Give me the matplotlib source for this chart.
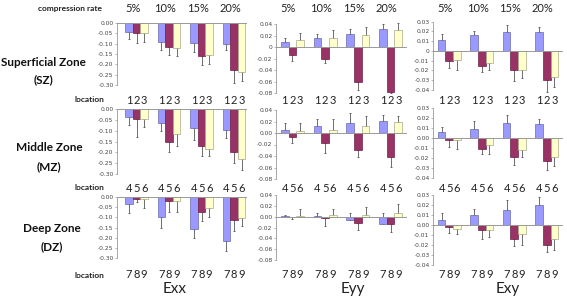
import numpy as np
import matplotlib.pyplot as plt
from matplotlib.transforms import blended_transform_factory

plt.rcParams['axes.unicode_minus'] = False
plt.rcParams['font.family'] = ['Lato', 'DejaVu Sans']

rates = ['5%', '10%', '15%', '20%']
loc_sz = ['1', '2', '3']
loc_mz = ['4', '5', '6']
loc_dz = ['7', '8', '9']
strains = ['Exx', 'Eyy', 'Exy']

# means (rows: compression rate, cols: location) and tip of each error bar
exx_sz = [[-0.045, -0.05, -0.05], [-0.092, -0.116, -0.119], [-0.095, -0.161, -0.156], [-0.10, -0.229, -0.237]]
exx_sz_tip = [[-0.078, -0.097, -0.092], [-0.132, -0.156, -0.16], [-0.14, -0.205, -0.20], [-0.132, -0.29, -0.28]]
eyy_sz = [[0.009, -0.014, 0.013], [0.015, -0.020, 0.016], [0.022, -0.060, 0.021], [0.032, -0.078, 0.030]]
eyy_sz_tip = [[0.016, -0.024, 0.025], [0.022, -0.027, 0.029], [0.032, -0.075, 0.035], [0.040, -0.08, 0.041]]
exy_sz = [[0.011, -0.010, -0.009], [0.016, -0.015, -0.012], [0.019, -0.020, -0.020], [0.0195, -0.030, -0.027]]
exy_sz_tip = [[0.017, -0.017, -0.019], [0.020, -0.022, -0.019], [0.027, -0.031, -0.028], [0.025, -0.042, -0.037]]

exx_mz = [[-0.035, -0.046, -0.046], [-0.066, -0.15, -0.115], [-0.088, -0.17, -0.185], [-0.097, -0.20, -0.231]]
exx_mz_tip = [[-0.074, -0.13, -0.083], [-0.10, -0.20, -0.17], [-0.143, -0.216, -0.216], [-0.134, -0.25, -0.282]]
eyy_mz = [[0.006, -0.007, 0.004], [0.012, -0.017, 0.006], [0.018, -0.030, 0.012], [0.021, -0.041, 0.019]]
eyy_mz_tip = [[0.018, -0.018, 0.017], [0.025, -0.035, 0.024], [0.035, -0.042, 0.030], [0.032, -0.059, 0.030]]
exy_mz = [[0.006, -0.002, -0.002], [0.009, -0.011, -0.0065], [0.0155, -0.019, -0.012], [0.014, -0.023, -0.019]]
exy_mz_tip = [[0.011, -0.009, -0.011], [0.017, -0.016, -0.016], [0.023, -0.027, -0.019], [0.0195, -0.032, -0.028]]

exx_dz = [[-0.035, -0.01, -0.01], [-0.10, -0.02, -0.02], [-0.158, -0.072, -0.055], [-0.214, -0.113, -0.105]]
exx_dz_tip = [[-0.08, -0.025, -0.055], [-0.152, -0.072, -0.072], [-0.20, -0.116, -0.097], [-0.268, -0.165, -0.145]]
eyy_dz = [[0.001, -0.001, 0.002], [0.001, -0.002, 0.004], [-0.007, -0.011, 0.003], [-0.013, -0.014, 0.0075]]
eyy_dz_tip = [[0.004, -0.004, 0.014], [0.006, -0.017, 0.014], [0.006, -0.024, 0.018], [0.006, -0.028, 0.023]]
exy_dz = [[0.005, -0.002, -0.004], [0.010, -0.005, -0.005], [0.0147, -0.0143, -0.009], [0.020, -0.0195, -0.0143]]
exy_dz_tip = [[0.012, -0.008, -0.009], [0.016, -0.014, -0.012], [0.025, -0.021, -0.020], [0.028, -0.027, -0.025]]

colors = ['#9999ff', '#993366', '#ffffcc']
edges = ['#6a6aa8', '#6e2349', '#a8a88a']

W, H = 567, 298
fig = plt.figure(figsize=(W / 100, H / 100), dpi=100)


def box(x0, x1, ytop, ybot):
    return [x0 / W, 1 - ybot / H, (x1 - x0) / W, (ybot - ytop) / H]


def panel(pos, vals, tips, ylim, yticks, zero_label, xlim):
    ax = fig.add_axes(pos)
    vals = np.array(vals)
    tips = np.array(tips)
    x = np.arange(len(rates))
    w = 0.235
    for j in range(3):
        xs = x + (j - 1) * w
        v = vals[:, j]
        t = tips[:, j]
        lo = np.where(t < v, v - t, 0)
        hi = np.where(t > v, t - v, 0)
        ax.errorbar(xs, v, yerr=[lo, hi], fmt='none', ecolor='#555555',
                    elinewidth=0.6, capsize=1, capthick=0.6, zorder=1, clip_on=False)
        ax.bar(xs, v, w, color=colors[j], edgecolor=edges[j], linewidth=0.5, zorder=2)
    ax.axhline(0, color='#999999', lw=0.7, zorder=3)
    ax.set_xlim(*xlim)
    ax.set_ylim(*ylim)
    ax.set_yticks(yticks)
    labels = []
    for t in yticks:
        if abs(t) < 1e-9:
            labels.append(zero_label)
        else:
            labels.append('%.2f' % t)
    ax.set_yticklabels(labels, fontfamily='DejaVu Sans')
    ax.set_xticks([])
    for s in ['top', 'right', 'bottom']:
        ax.spines[s].set_visible(False)
    ax.spines['left'].set_color('#999999')
    ax.spines['left'].set_linewidth(0.6)
    ax.tick_params(axis='y', labelsize=4.3, labelcolor='#444444', length=1.5,
                   width=0.5, color='#999999', pad=1)
    return ax


exx_ticks = [0.0, -0.05, -0.10, -0.15, -0.20, -0.25, -0.30]
eyy_ticks = [0.04, 0.02, 0.0, -0.02, -0.04, -0.06, -0.08]
exy_ticks = [0.03, 0.02, 0.01, 0.0, -0.01, -0.02, -0.03, -0.04]

rows = [
    (exx_sz, exx_sz_tip, eyy_sz, eyy_sz_tip, exy_sz, exy_sz_tip, loc_sz, '0',
     (23, 85), (24, 93), (21.7, 90), 100),
    (exx_mz, exx_mz_tip, eyy_mz, eyy_mz_tip, exy_mz, exy_mz_tip, loc_mz, '0.00',
     (109, 174), (110, 179), (108, 178), 188),
    (exx_dz, exx_dz_tip, eyy_dz, eyy_dz_tip, exy_dz, exy_dz_tip, loc_dz, '0.00',
     (197, 258), (195, 260), (195, 265), 275),
]

for r, (a, at, b, bt, c, ct, locs, z, ya, yb, yc, yloc) in enumerate(rows):
    ax1 = panel(box(117, 247, *ya), a, at, (-0.30, 0.0), exx_ticks, '0.00', (-0.6, 3.4))
    ax2 = panel(box(276, 407, *yb), b, bt, (-0.08, 0.04), eyy_ticks, z, (-0.5, 3.5))
    ax3 = panel(box(433, 563, *yc), c, ct, (-0.04, 0.03), exy_ticks, z, (-0.5, 3.5))
    for ax in (ax1, ax2, ax3):
        tr = blended_transform_factory(ax.transData, fig.transFigure)
        for i in range(len(rates)):
            for j, lab in enumerate(locs):
                ax.text(i + (j - 1) * 0.235, 1 - yloc / H, lab, transform=tr,
                        ha='center', va='center', fontsize=8, color='#222222')
            if r == 0:
                ax.text(i - 0.12, 1 - 8 / H, rates[i], transform=tr,
                        ha='center', va='center', fontsize=8, color='#222222')

# left side labels
fig.text(70 / W, 1 - 9 / H, 'compression rate', ha='center', va='center',
         fontsize=6, fontweight='bold', color='#222222')
zones = [('Superficial Zone', '(SZ)', 63, 80, 43),
         ('Middle Zone', '(MZ)', 148, 167, 49),
         ('Deep Zone', '(DZ)', 228, 247, 52)]
for name, abbr, y1, y2, xc in zones:
    fig.text(xc / W, 1 - y1 / H, name, ha='center', va='center',
             fontsize=8.5, fontweight='bold', color='#111111')
    fig.text(xc / W, 1 - y2 / H, abbr, ha='center', va='center',
             fontsize=8.5, fontweight='bold', color='#111111')
for yloc in [100, 188, 275]:
    fig.text(89 / W, 1 - yloc / H, 'location', ha='center', va='center',
             fontsize=6, fontweight='bold', color='#222222')

for lab, xc in zip(strains, [175, 353, 508]):
    fig.text(xc / W, 1 - 289 / H, lab, ha='center', va='center',
             fontsize=11, color='#222222')

fig.savefig('out.png', dpi=100, facecolor='white')
